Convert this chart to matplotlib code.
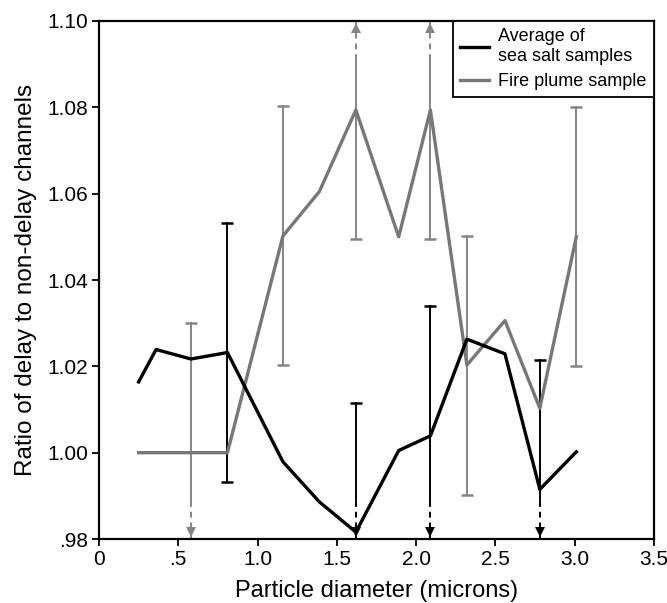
import matplotlib.pyplot as plt

plt.rcParams['font.family'] = ['Liberation Sans', 'DejaVu Sans']

# particle diameter (microns)
diam = [0.25, 0.36, 0.58, 0.81, 1.16, 1.39, 1.62, 1.89, 2.09, 2.32, 2.56, 2.78, 3.01]
sea_salt = [1.0164, 1.0239, 1.0217, 1.0232, 0.9979, 0.9886, 0.9816,
            1.0005, 1.0039, 1.0263, 1.0229, 0.9915, 1.0002]
fire_plume = [1.000, 1.000, 1.000, 1.000, 1.0502, 1.0605, 1.0794,
              1.050, 1.0794, 1.0203, 1.0306, 1.0103, 1.050]

# error bars (+/-), 0 = no bar drawn
sea_salt_err = [0, 0, 0, 0.03, 0, 0, 0.03, 0, 0.03, 0, 0, 0.03, 0]
fire_plume_err = [0, 0, 0.03, 0, 0.03, 0, 0.03, 0, 0.03, 0.03, 0, 0, 0.03]

x_ticks = [0, 0.5, 1.0, 1.5, 2.0, 2.5, 3.0, 3.5]
x_labels = ['0', '.5', '1.0', '1.5', '2.0', '2.5', '3.0', '3.5']
y_ticks = [0.98, 1.00, 1.02, 1.04, 1.06, 1.08, 1.10]
y_labels = ['.98', '1.00', '1.02', '1.04', '1.06', '1.08', '1.10']

YMIN, YMAX = 0.98, 1.10
DASH = 0.009


def draw_errbars(ax, xs, ys, errs, color):
    for x, y, e in zip(xs, ys, errs):
        if e == 0:
            continue
        lo, hi = y - e, y + e
        top = min(hi, YMAX - DASH) if hi > YMAX else hi
        bot = max(lo, YMIN + DASH) if lo < YMIN else lo
        ax.plot([x, x], [bot, top], color=color, lw=1.4, zorder=2)
        if hi > YMAX:
            ax.plot([x, x], [top, YMAX], color=color, lw=1.4, ls=(0, (3, 2.5)), zorder=2, clip_on=False)
            ax.plot(x, YMAX - 0.0016, marker='^', ms=7, color=color, mew=0, clip_on=False, zorder=5)
        else:
            ax.plot(x, hi, marker='_', ms=9, mew=1.8, color=color, zorder=2)
        if lo < YMIN:
            ax.plot([x, x], [YMIN, bot], color=color, lw=1.4, ls=(0, (3, 2.5)), zorder=2, clip_on=False)
            ax.plot(x, YMIN + 0.0016, marker='v', ms=7, color=color, mew=0, clip_on=False, zorder=5)
        else:
            ax.plot(x, lo, marker='_', ms=9, mew=1.8, color=color, zorder=2)


fig = plt.figure(figsize=(6.67, 6.03), dpi=100)
ax = fig.add_axes([0.1484, 0.1061, 0.8321, 0.8591])

draw_errbars(ax, diam, sea_salt, sea_salt_err, 'black')
draw_errbars(ax, diam, fire_plume, fire_plume_err, '#858585')

ax.plot(diam, sea_salt, color='black', lw=2.4, label='Average of\nsea salt samples', zorder=4)
ax.plot(diam, fire_plume, color='#777777', lw=2.4, label='Fire plume sample', zorder=3)

ax.set_xlim(0, 3.5)
ax.set_ylim(YMIN, YMAX)
ax.set_xticks(x_ticks)
ax.set_xticklabels(x_labels)
ax.set_yticks(y_ticks)
ax.set_yticklabels(y_labels)
ax.tick_params(direction='out', length=5, width=1.3, labelsize=15, pad=3)
for s in ax.spines.values():
    s.set_linewidth(1.6)

ax.set_xlabel('Particle diameter (microns)', fontsize=17, labelpad=8)
ax.set_ylabel('Ratio of delay to non-delay channels', fontsize=17.5, labelpad=7)

leg = ax.legend(loc='upper right', borderaxespad=0, fancybox=False, framealpha=1,
                edgecolor='black', fontsize=13, handlelength=1.6, handletextpad=0.5,
                labelspacing=0.45, borderpad=0.4)
leg.get_frame().set_linewidth(1.3)

plt.savefig('out.png', dpi=100)
